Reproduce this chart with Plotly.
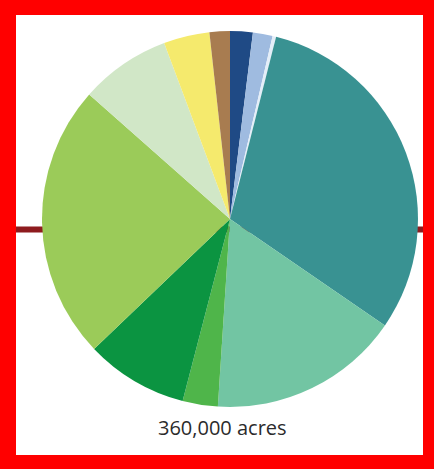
import plotly.graph_objects as go

W, H = 434, 469

# Land cover shares, clockwise from 12 o'clock (acres, total 360,000)
categories = [
    "Open water", "Developed", "Barren", "Evergreen forest", "Mixed forest",
    "Shrubland", "Deciduous forest", "Grassland", "Pasture", "Cultivated crops", "Wetlands",
]
acres = [7000, 6100, 1100, 110300, 59200, 10900, 31700, 85200, 28000, 14200, 6300]
colors = [
    "#1f4a85", "#9fbbe0", "#e4eef8", "#399292", "#72c5a3",
    "#4fb54a", "#0b9441", "#9bcb59", "#d1e7c7", "#f5ea6d", "#a87c50",
]
total_label = "360,000 acres"

fig = go.Figure()
fig.add_trace(go.Pie(
    labels=categories,
    values=acres,
    marker=dict(colors=colors, line=dict(width=0)),
    sort=False,
    direction="clockwise",
    rotation=0,
    textinfo="none",
    hoverinfo="label+value+percent",
    showlegend=False,
    domain=dict(x=[42 / W, 418 / W], y=[1 - 407 / H, 1 - 31 / H]),
))

def px(x):
    return x / W

def py(y):
    return 1 - y / H

shapes = [
    # horizontal rule behind the pie
    dict(type="line", xref="paper", yref="paper", layer="below",
         x0=px(16), x1=px(423), y0=py(229.5), y1=py(229.5),
         line=dict(color="#8e1b1e", width=6)),
    # red frame
    dict(type="rect", xref="paper", yref="paper", x0=0, x1=px(16), y0=0, y1=1,
         fillcolor="#ff0000", line=dict(width=0)),
    dict(type="rect", xref="paper", yref="paper", x0=px(423), x1=1, y0=0, y1=1,
         fillcolor="#ff0000", line=dict(width=0)),
    dict(type="rect", xref="paper", yref="paper", x0=0, x1=1, y0=py(15), y1=1,
         fillcolor="#ff0000", line=dict(width=0)),
    dict(type="rect", xref="paper", yref="paper", x0=0, x1=1, y0=0, y1=py(455),
         fillcolor="#ff0000", line=dict(width=0)),
]

fig.update_layout(
    width=W, height=H,
    margin=dict(l=0, r=0, t=0, b=0),
    paper_bgcolor="white",
    plot_bgcolor="white",
    shapes=shapes,
    annotations=[dict(
        text=total_label, xref="paper", yref="paper",
        x=px(222), y=py(427), xanchor="center", yanchor="middle",
        showarrow=False, font=dict(family="Open Sans", size=20, color="#2b2b2b"),
    )],
)

fig.write_html("out.html")
